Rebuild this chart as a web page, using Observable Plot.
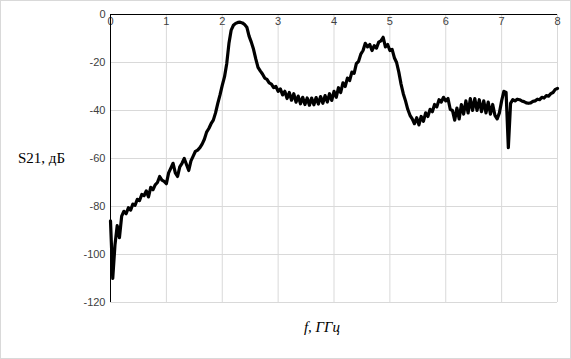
<!DOCTYPE html>
<html><head><meta charset="utf-8">
<script src="https://cdn.jsdelivr.net/npm/d3@7"></script>
<script src="https://cdn.jsdelivr.net/npm/@observablehq/plot@0.6"></script>
<style>body{margin:0;background:#fff}</style>
</head><body><div id="chart"></div>
<script>
// Frequency grid of the measured trace (GHz): uniform sampling
const fStart = 0, fStep = 0.04;
// S21 (dB), one value per frequency sample
const s21 = [
 -86,-110,-96,-88,-93,-84,-82,-83,-80.5,-81.5,
 -79,-79.5,-77,-77.5,-75,-75.5,-73.5,-76,-72,-73,
 -71,-70,-67.5,-69,-69.5,-70.5,-66,-64,-62,-66,
 -67.5,-63.5,-62,-60,-62.5,-65,-61,-59,-57,-56.5,
 -55.5,-54,-52,-49,-47.5,-45.5,-44,-41,-37,-33.5,
 -29.5,-26,-20.5,-12,-6.5,-4.5,-3.7,-3.3,-3.2,-3.5,
 -4.2,-5.3,-9,-11.5,-14.5,-18.5,-22,-23.5,-24.8,-26.5,
 -27,-28.5,-29,-30.5,-30,-32,-31,-33.5,-32,-35,
 -32.5,-35.7,-33,-36.5,-34,-37.2,-34.5,-37.5,-34.8,-37.8,
 -34.8,-37.6,-34.6,-37.3,-34.2,-37,-33.8,-36.5,-33,-35.8,
 -32,-34.5,-30.5,-32.5,-28.5,-30,-26.5,-27.5,-24,-24.5,
 -20.5,-19.5,-16.5,-15,-12,-13.5,-12.5,-15,-13,-14,
 -11.5,-11,-9.5,-13.5,-12.5,-15,-14.5,-18,-20,-24,
 -29,-33,-36,-39.5,-42,-43.5,-45.5,-43,-46,-42.5,
 -44.5,-41,-42.5,-39.5,-40.5,-37.5,-38.5,-35.5,-36.5,-34.5,
 -36,-35,-39.5,-40,-44,-39,-43.5,-37.5,-41.5,-36,
 -41,-35,-40,-35,-40,-35.5,-40.5,-36,-41,-36.5,
 -41.5,-37.5,-42,-43.5,-41,-36,-32,-32.5,-55.5,-37,
 -35.5,-36,-35.3,-35.5,-36,-36.3,-36.8,-37,-36.8,-36.2,
 -36,-35.3,-35.5,-34.5,-34.8,-33.8,-34,-33,-32.5,-31.2,
 -30.8
];
const xTicks = [0, 1, 2, 3, 4, 5, 6, 7, 8];
const yTicks = [0, -20, -40, -60, -80, -100, -120];
const yTitle = "S21, дБ";
const xTitle = "f, ГГц";

const data = s21.map((v, i) => ({f: +(fStart + i * fStep).toFixed(3), v}));

const plot = Plot.plot({
  width: 571, height: 359,
  marginLeft: 110, marginRight: 14, marginTop: 14, marginBottom: 57,
  style: {fontFamily: "'Liberation Sans', Arial, sans-serif", fontSize: "11px", color: "#404040", background: "#fff"},
  x: {domain: [0, 8]},
  y: {domain: [-120, 0]},
  marks: [
    Plot.gridX(xTicks, {stroke: "#d9d9d9", strokeOpacity: 1}),
    Plot.gridY(yTicks, {stroke: "#d9d9d9", strokeOpacity: 1}),
    Plot.axisY(yTicks, {tickSize: 0, tickPadding: 5, label: null, tickFormat: d => String(d)}),
    Plot.axisX(xTicks, {anchor: "top", tickSize: 0, dy: 19, label: null, tickFormat: d => String(d)}),
    Plot.ruleY([0], {stroke: "#000", strokeWidth: 1}),
    Plot.ruleX([0], {stroke: "#000", strokeWidth: 1}),
    Plot.line(data, {x: "f", y: "v", stroke: "#000", strokeWidth: 3.2, strokeLinejoin: "round"})
  ]
});

const svg = d3.select(plot);
svg.append("rect").attr("x", 0.5).attr("y", 0.5).attr("width", 570).attr("height", 358)
  .attr("fill", "none").attr("stroke", "#d9d9d9");
svg.append("text").attr("x", 18).attr("y", 163).attr("text-anchor", "start")
  .style("font-family", "'Liberation Serif', 'Times New Roman', serif").style("font-size", "15px").attr("fill", "#000")
  .text(yTitle);
svg.append("text").attr("x", 322).attr("y", 332).attr("text-anchor", "middle")
  .style("font-family", "'Liberation Serif', 'Times New Roman', serif").style("font-size", "15px").style("font-style", "italic").attr("fill", "#000")
  .text(xTitle);
document.getElementById("chart").appendChild(plot);
</script>
</body></html>
